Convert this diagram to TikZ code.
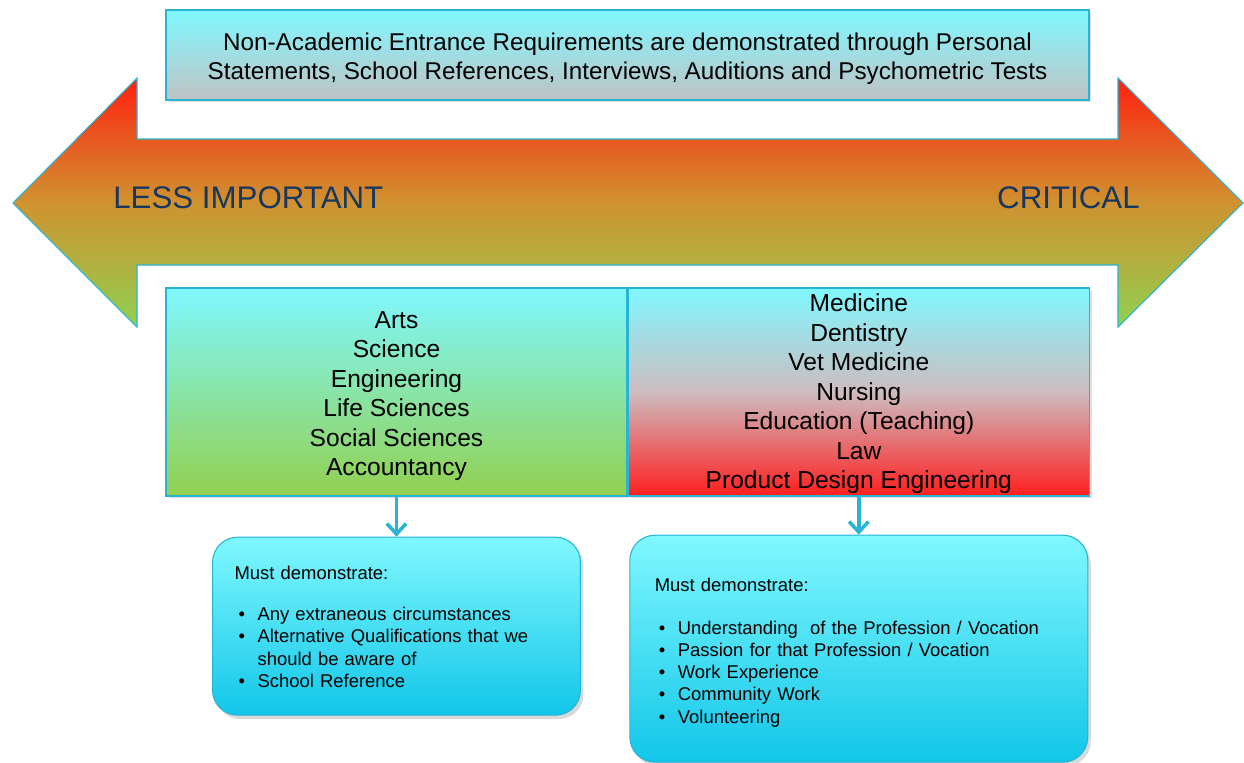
\documentclass[tikz,border=0pt]{standalone}
\usepackage{fontspec}
\setmainfont{Liberation Sans}
\usetikzlibrary{positioning, shadows, arrows.meta}

\definecolor{cyantop}{RGB}{128,248,255}
\definecolor{edgecyan}{RGB}{40,180,212}
\definecolor{greybot}{RGB}{192,194,196}
\definecolor{greenbot}{RGB}{146,208,80}
\definecolor{pinkmid}{RGB}{205,188,192}
\definecolor{redbot}{RGB}{255,30,30}
\definecolor{roundbot}{RGB}{18,198,232}
\definecolor{navy}{RGB}{23,55,94}
\definecolor{arrowred}{RGB}{255,32,16}
\definecolor{arrowmid}{RGB}{208,146,48}
\definecolor{arrowgreen}{RGB}{144,208,80}

\newcommand{\itm}[1]{\hspace*{0.08cm}\makebox[0.38cm][l]{\textbullet}#1}
% move a block of lines down, keep its size
\newcommand{\nudge}[3]{\raisebox{-#1}[\height][\depth]{\begin{tabular}{@{}#2@{}}#3\end{tabular}}}

\begin{document}
\begin{tikzpicture}[x=0.02cm, y=-0.02cm,
  panel/.style={draw=edgecyan, line width=0.8pt, align=center, inner sep=0,
    drop shadow={opacity=.25, shadow xshift=.05cm, shadow yshift=-.05cm}},
  subject/.style={panel, minimum width=9.22cm, minimum height=4.16cm,
    font=\fontsize{14}{16.8}\selectfont},
  demo/.style={draw=edgecyan, line width=0.6pt, rounded corners=0.5cm, align=left,
    top color=cyantop, bottom color=roundbot, font=\fontsize{10.5}{12.6}\selectfont,
    drop shadow={opacity=.3, shadow xshift=.06cm, shadow yshift=-.08cm}},
  label/.style={text=navy, font=\fontsize{17.8}{21}\selectfont, inner sep=0},
  down/.style={draw=edgecyan, line width=2pt, -{Straight Barb[length=6pt, width=11pt]}}]

  \useasboundingbox (0,0) rectangle (1244,762);

  % double arrow
  \shade[top color=arrowred, bottom color=arrowgreen, middle color=arrowmid,
    draw=edgecyan, line width=0.6pt]
    (13,203) -- (137,78) -- (137,139) -- (1118,139) -- (1118,78) -- (1243,203)
    -- (1118,327) -- (1118,265) -- (137,265) -- (137,327) -- cycle;

  \node[label, anchor=west] (less) at (113,198) {LESS IMPORTANT};
  \node[label, anchor=east] (crit) at (1140,198) {CRITICAL};

  % top box
  \node[panel, top color=cyantop, bottom color=greybot, minimum width=18.46cm,
    minimum height=1.8cm, font=\fontsize{13.8}{16.6}\selectfont] (ner) at (627.5,55)
    {\nudge{2.3pt}{c}{Non-Academic Entrance Requirements are demonstrated through Personal\\
     Statements, School References, Interviews, Auditions and Psychometric Tests}};

  % subject boxes
  \node[subject, top color=cyantop, bottom color=greenbot] (arts) at (396.5,392)
    {\nudge{2.3pt}{c}{Arts\\ Science\\ Engineering\\ Life Sciences\\ Social Sciences\\ Accountancy}};
  \node[subject, top color=cyantop, bottom color=redbot, middle color=pinkmid,
    right=0pt of arts] (medicine)
    {\nudge{1.4pt}{c}{Medicine\\ Dentistry\\ Vet Medicine\\ Nursing\\ Education (Teaching)\\ Law\\
     Product Design Engineering}};

  % what must be shown
  \node[demo, below=0.8cm of arts, minimum width=7.36cm, minimum height=3.56cm,
    text width=6.48cm, inner xsep=0.44cm] (mustarts)
    {\nudge{1.5pt}{l}{Must demonstrate:\\[11pt]
     \itm{Any extraneous circumstances}\\
     \itm{Alternative Qualifications that we}\\
     \hspace*{0.46cm}should be aware of\\
     \itm{School Reference}}};
  \node[demo, below=0.76cm of medicine, minimum width=9.16cm, minimum height=4.54cm,
    text width=8.16cm, inner xsep=0.5cm] (mustmed)
    {\nudge{2.5pt}{l}{Must demonstrate:\\[11.7pt]
     \itm{Understanding\ \ of the Profession / Vocation}\\
     \itm{Passion for that Profession / Vocation}\\
     \itm{Work Experience}\\
     \itm{Community Work}\\
     \itm{Volunteering}}};

  \draw[down] (arts.south) -- (mustarts.north);
  \draw[down] (medicine.south) -- (mustmed.north);
\end{tikzpicture}
\end{document}
